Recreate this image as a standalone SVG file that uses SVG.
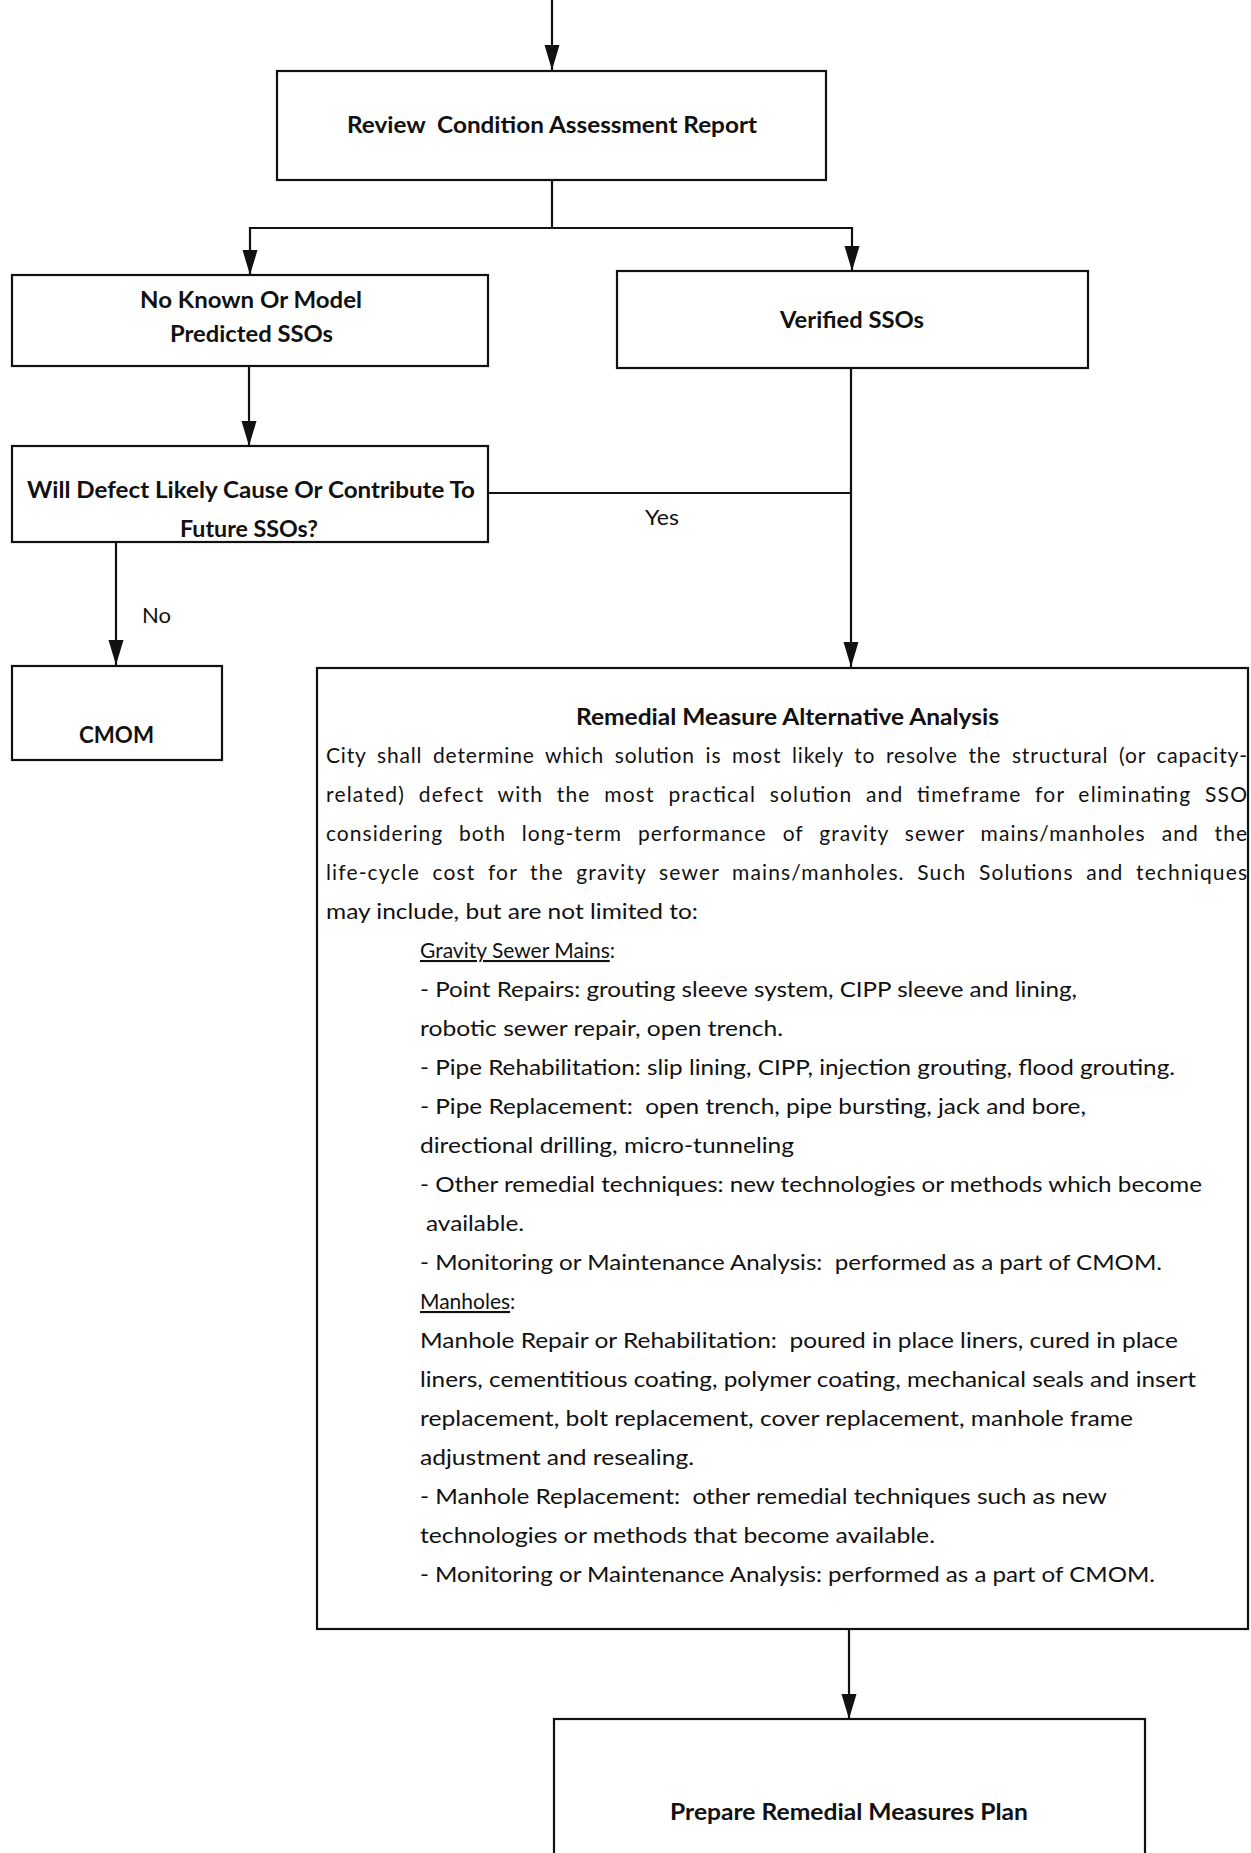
<svg xmlns="http://www.w3.org/2000/svg" width="1251" height="1853" viewBox="0 0 1251 1853">
<style>
.box{fill:none;stroke:#111;stroke-width:2.2}
.con{fill:none;stroke:#111;stroke-width:2.2}
.h{font-family:Lato,"Liberation Sans",sans-serif;font-weight:bold;font-size:22px;fill:#111;white-space:pre}
.b{font-family:Lato,"Liberation Sans",sans-serif;font-size:21px;fill:#111;white-space:pre}
.u{text-decoration:underline}
</style>
<defs>
<marker id="arr" markerUnits="userSpaceOnUse" markerWidth="26" markerHeight="16" refX="25" refY="7.5" orient="auto">
<path d="M0,0 L25,7.5 L0,15 z" fill="#111"/>
</marker>
</defs>
<rect width="1251" height="1853" fill="#fff"/>
<g id="connectors">
<path class="con" d="M552,0 V70" marker-end="url(#arr)"/>
<path class="con" d="M552,180 V228 H250 V275" marker-end="url(#arr)"/>
<path class="con" d="M552,228 H852 V271" marker-end="url(#arr)"/>
<path class="con" d="M249,366 V446" marker-end="url(#arr)"/>
<path class="con" d="M116,542 V665" marker-end="url(#arr)"/>
<path class="con" d="M488,493 H851"/>
<path class="con" d="M851,368 V667" marker-end="url(#arr)"/>
<path class="con" d="M849,1629 V1719" marker-end="url(#arr)"/>
<text class="b" x="142" y="623" textLength="29" lengthAdjust="spacingAndGlyphs">No</text>
<text class="b" x="645" y="525" textLength="34" lengthAdjust="spacingAndGlyphs">Yes</text>
</g>
<g id="review">
<rect class="box" x="277" y="71" width="549" height="109"/>
<text class="h" x="347" y="133" textLength="410" lengthAdjust="spacingAndGlyphs">Review  Condition Assessment Report</text>
</g>
<g id="noknown">
<rect class="box" x="12" y="275" width="476" height="91"/>
<text class="h" x="140" y="308" textLength="222" lengthAdjust="spacingAndGlyphs">No Known Or Model</text>
<text class="h" x="170" y="342" textLength="163" lengthAdjust="spacingAndGlyphs">Predicted SSOs</text>
</g>
<g id="verified">
<rect class="box" x="617" y="271" width="471" height="97"/>
<text class="h" x="780" y="328" textLength="144" lengthAdjust="spacingAndGlyphs">Verified SSOs</text>
</g>
<g id="willdefect">
<rect class="box" x="12" y="446" width="476" height="96"/>
<text class="h" x="27" y="498" textLength="448" lengthAdjust="spacingAndGlyphs">Will Defect Likely Cause Or Contribute To</text>
<text class="h" x="180" y="537" textLength="138" lengthAdjust="spacingAndGlyphs">Future SSOs?</text>
</g>
<g id="cmom">
<rect class="box" x="12" y="666" width="210" height="94"/>
<text class="h" x="79" y="743" textLength="75" lengthAdjust="spacingAndGlyphs">CMOM</text>
</g>
<g id="remedial">
<rect class="box" x="317" y="668" width="931" height="961"/>
<text class="h" x="576" y="725" textLength="423" lengthAdjust="spacingAndGlyphs">Remedial Measure Alternative Analysis</text>
<text class="b" x="326" y="763" textLength="921" lengthAdjust="spacing" word-spacing="4.5">City shall determine which solution is most likely to resolve the structural (or capacity-</text>
<text class="b" x="326" y="802" textLength="921" lengthAdjust="spacing" word-spacing="7">related) defect with the most practical solution and timeframe for eliminating SSO</text>
<text class="b" x="326" y="841" textLength="921" lengthAdjust="spacing" word-spacing="9.5">considering both long-term performance of gravity sewer mains/manholes and the</text>
<text class="b" x="326" y="880" textLength="921" lengthAdjust="spacing" word-spacing="6">life-cycle cost for the gravity sewer mains/manholes. Such Solutions and techniques</text>
<text class="b" x="326" y="919" textLength="372" lengthAdjust="spacingAndGlyphs">may include, but are not limited to:</text>
<text class="b" x="420" y="958"><tspan class="u">Gravity Sewer Mains</tspan>:</text>
<text class="b" x="420" y="997" textLength="657" lengthAdjust="spacingAndGlyphs">- Point Repairs: grouting sleeve system, CIPP sleeve and lining,</text>
<text class="b" x="420" y="1036" textLength="363" lengthAdjust="spacingAndGlyphs">robotic sewer repair, open trench.</text>
<text class="b" x="420" y="1075" textLength="755" lengthAdjust="spacingAndGlyphs">- Pipe Rehabilitation: slip lining, CIPP, injection grouting, flood grouting.</text>
<text class="b" x="420" y="1114" textLength="666" lengthAdjust="spacingAndGlyphs">- Pipe Replacement:  open trench, pipe bursting, jack and bore,</text>
<text class="b" x="420" y="1153" textLength="374" lengthAdjust="spacingAndGlyphs">directional drilling, micro-tunneling</text>
<text class="b" x="420" y="1192" textLength="782" lengthAdjust="spacingAndGlyphs">- Other remedial techniques: new technologies or methods which become</text>
<text class="b" x="426" y="1231" textLength="98" lengthAdjust="spacingAndGlyphs">available.</text>
<text class="b" x="420" y="1270" textLength="742" lengthAdjust="spacingAndGlyphs">- Monitoring or Maintenance Analysis:  performed as a part of CMOM.</text>
<text class="b" x="420" y="1309"><tspan class="u">Manholes</tspan>:</text>
<text class="b" x="420" y="1348" textLength="758" lengthAdjust="spacingAndGlyphs">Manhole Repair or Rehabilitation:  poured in place liners, cured in place</text>
<text class="b" x="420" y="1387" textLength="776" lengthAdjust="spacingAndGlyphs">liners, cementitious coating, polymer coating, mechanical seals and insert</text>
<text class="b" x="420" y="1426" textLength="713" lengthAdjust="spacingAndGlyphs">replacement, bolt replacement, cover replacement, manhole frame</text>
<text class="b" x="420" y="1465" textLength="274" lengthAdjust="spacingAndGlyphs">adjustment and resealing.</text>
<text class="b" x="420" y="1504" textLength="687" lengthAdjust="spacingAndGlyphs">- Manhole Replacement:  other remedial techniques such as new</text>
<text class="b" x="420" y="1543" textLength="515" lengthAdjust="spacingAndGlyphs">technologies or methods that become available.</text>
<text class="b" x="420" y="1582" textLength="735" lengthAdjust="spacingAndGlyphs">- Monitoring or Maintenance Analysis: performed as a part of CMOM.</text>
</g>
<g id="prepare">
<rect class="box" x="554" y="1719" width="591" height="200"/>
<text class="h" x="670" y="1820" textLength="358" lengthAdjust="spacingAndGlyphs">Prepare Remedial Measures Plan</text>
</g>
</svg>
